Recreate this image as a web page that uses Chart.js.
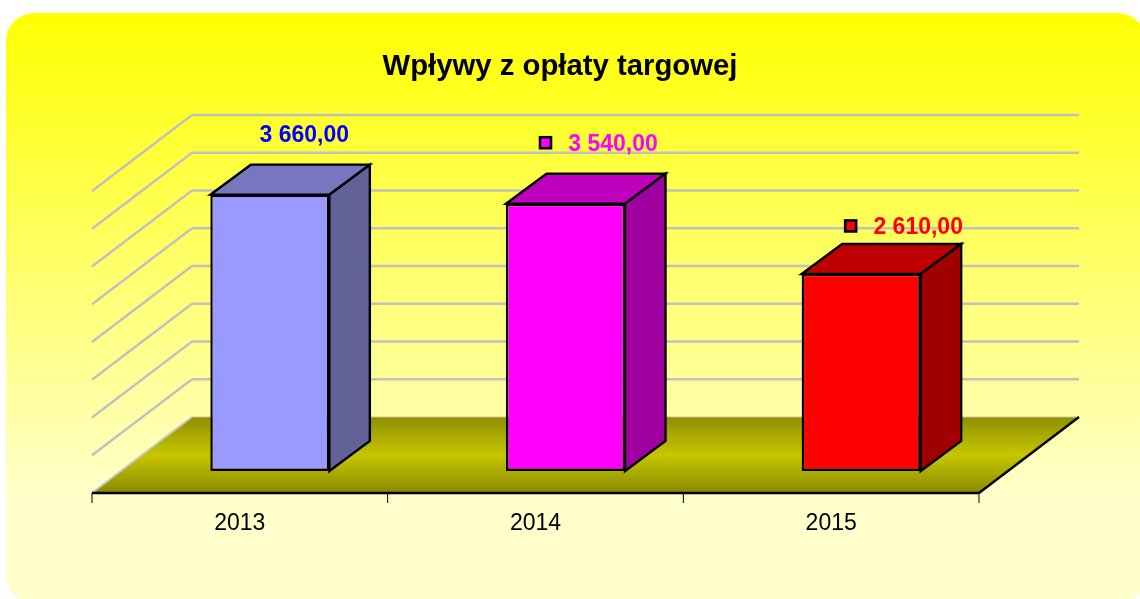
<!DOCTYPE html>
<html lang="pl">
<head>
<meta charset="utf-8">
<title>Wpływy z opłaty targowej</title>
<style>
html,body{margin:0;padding:0;background:#fff;overflow:hidden}
#wrap{width:1140px;height:599px}
canvas{display:block;filter:blur(0.35px)}
</style>
<script src="https://cdn.jsdelivr.net/npm/chart.js@4"></script>
</head>
<body>
<div id="wrap"><canvas id="c" width="1140" height="599"></canvas></div>
<script>
const title = 'Wpływy z opłaty targowej';
const categories = ['2013', '2014', '2015'];
const values = [3660, 3540, 2610];
const valueLabels = ['3 660,00', '3 540,00', '2 610,00'];
const yTicksStep = 500;
const yMax = 4000;

const frontColors = ['#9999ff', '#ff00ff', '#ff0000'];
const topColors = ['#7777bf', '#bf00bf', '#bf0000'];
const sideColors = ['#626299', '#a000a0', '#a00000'];
const showKey = [false, true, true];

// label anchor relative to the bar's front-top centre
const labelDx = [34.5, 47.5, 57];
const labelDy = [-59.5, -59.5, -46.5];
const keyDx = [0, -67.5, -67.5];

// 3D projection: plane of the bar fronts relative to wall front / back
const frontDx = -30, frontDy = 22;
const backDx = 70, backDy = -54;
const barDepthX = 40.5, barDepthY = -30;

function poly(ctx, pts, fill, stroke, lw) {
  ctx.beginPath();
  pts.forEach((p, i) => i ? ctx.lineTo(p[0], p[1]) : ctx.moveTo(p[0], p[1]));
  ctx.closePath();
  if (fill) { ctx.fillStyle = fill; ctx.fill(); }
  if (stroke) { ctx.strokeStyle = stroke; ctx.lineWidth = lw; ctx.lineJoin = 'miter'; ctx.stroke(); }
}
function line(ctx, x1, y1, x2, y2, color, lw) {
  ctx.beginPath(); ctx.moveTo(x1, y1); ctx.lineTo(x2, y2);
  ctx.strokeStyle = color; ctx.lineWidth = lw; ctx.stroke();
}

const backdrop = {
  id: 'backdrop',
  beforeDraw(chart) {
    const ctx = chart.ctx;
    ctx.save();
    const g = ctx.createLinearGradient(0, 13, 0, 500);
    g.addColorStop(0, '#ffff00');
    g.addColorStop(1, '#ffffcc');
    ctx.beginPath();
    ctx.roundRect(6, 13, 1140, 590, 28);
    ctx.fillStyle = g;
    ctx.fill();
    ctx.restore();
  }
};

const depth3d = {
  id: 'depth3d',
  beforeDatasetsDraw(chart) {
    const ctx = chart.ctx, x = chart.scales.x, y = chart.scales.y;
    const L = chart.chartArea.left, R = chart.chartArea.right;
    const y0 = y.getPixelForValue(0);
    ctx.save();
    // wall grid
    y.ticks.forEach(t => {
      const p = y.getPixelForValue(t.value);
      if (t.value === 0) return;
      line(ctx, L + frontDx, p + frontDy, L + backDx, p + backDy, '#c0c0c0', 2.4);
      line(ctx, L + backDx, p + backDy, R + backDx, p + backDy, '#c0c0c0', 2.4);
    });
    // floor
    const g = ctx.createLinearGradient(0, y0 + backDy, 0, y0 + frontDy);
    g.addColorStop(0, '#8f8f00');
    g.addColorStop(0.5, '#c6c600');
    g.addColorStop(1, '#8a8a00');
    poly(ctx, [[L + frontDx, y0 + frontDy], [L + backDx, y0 + backDy], [R + backDx, y0 + backDy], [R + frontDx, y0 + frontDy]], g);
    line(ctx, L + frontDx, y0 + frontDy, L + backDx, y0 + backDy, '#c4c4c4', 2);
    line(ctx, L + backDx, y0 + backDy, R + backDx, y0 + backDy, '#c4c4a0', 1);
    // front edge, right edge, ticks
    line(ctx, R + frontDx, y0 + frontDy, R + backDx, y0 + backDy, '#000', 2.4);
    line(ctx, L + frontDx, y0 + frontDy, R + frontDx, y0 + frontDy, '#000', 2.4);
    const step = x.getPixelForValue(1) - x.getPixelForValue(0);
    for (let i = 0; i <= categories.length; i++) {
      const tx = x.getPixelForValue(0) - step / 2 + i * step + frontDx;
      line(ctx, tx, y0 + frontDy, tx, y0 + frontDy + 10, '#000', 1);
    }
    // bar top and side faces
    chart.getDatasetMeta(0).data.forEach((bar, i) => {
      const l = bar.x - bar.width / 2, r = bar.x + bar.width / 2, t = bar.y, b = bar.base;
      poly(ctx, [[l, t], [l + barDepthX, t + barDepthY], [r + barDepthX, t + barDepthY], [r, t]], topColors[i], '#000', 2.4);
      poly(ctx, [[r, t], [r + barDepthX, t + barDepthY], [r + barDepthX, b + barDepthY], [r, b]], sideColors[i], '#000', 2.4);
    });
    ctx.restore();
  },
  afterDatasetsDraw(chart) {
    const ctx = chart.ctx;
    ctx.save();
    ctx.textAlign = 'center';
    ctx.textBaseline = 'middle';
    ctx.font = 'bold 23px "Liberation Sans", Arial, sans-serif';
    chart.getDatasetMeta(0).data.forEach((bar, i) => {
      const cy = bar.y + labelDy[i];
      ctx.fillStyle = i === 0 ? '#0000ff' : frontColors[i];
      ctx.fillText(valueLabels[i], bar.x + labelDx[i], cy);
      if (showKey[i]) {
        const kx = bar.x + labelDx[i] + keyDx[i], ky = cy - 1.5;
        ctx.fillStyle = frontColors[i];
        ctx.fillRect(kx - 5.5, ky - 5.5, 11, 11);
        ctx.strokeStyle = '#000'; ctx.lineWidth = 2.6;
        ctx.strokeRect(kx - 5.5, ky - 5.5, 11, 11);
      }
    });
    ctx.restore();
  }
};

new Chart(document.getElementById('c'), {
  type: 'bar',
  data: {
    labels: categories,
    datasets: [{
      label: title,
      data: values,
      backgroundColor: frontColors,
      borderColor: '#000',
      borderWidth: 2.4,
      borderSkipped: false,
      categoryPercentage: 1,
      barPercentage: 0.4025
    }]
  },
  plugins: [backdrop, depth3d],
  options: {
    responsive: false,
    animation: false,
    devicePixelRatio: 1,
    layout: { padding: { left: 111, right: 131, top: 0, bottom: 0 } },
    plugins: {
      legend: { display: false },
      tooltip: { enabled: false },
      title: {
        display: true,
        text: title,
        color: '#000',
        font: { family: '"Liberation Sans", Arial, sans-serif', size: 29.3, weight: 'bold', lineHeight: 1.2 },
        padding: { top: 49.5, bottom: 84.34 }
      }
    },
    scales: {
      x: {
        grid: { display: false, drawTicks: false },
        border: { display: false },
        ticks: {
          color: '#000',
          font: { family: '"Liberation Sans", Arial, sans-serif', size: 23 },
          padding: 39,
          labelOffset: frontDx,
          maxRotation: 0
        },
        afterFit(s) { s.height = 128; }
      },
      y: {
        min: 0,
        max: yMax,
        grid: { display: false, drawTicks: false },
        border: { display: false },
        ticks: { display: false, stepSize: yTicksStep },
        afterFit(s) { s.width = 11; }
      }
    }
  }
});
</script>
</body>
</html>
